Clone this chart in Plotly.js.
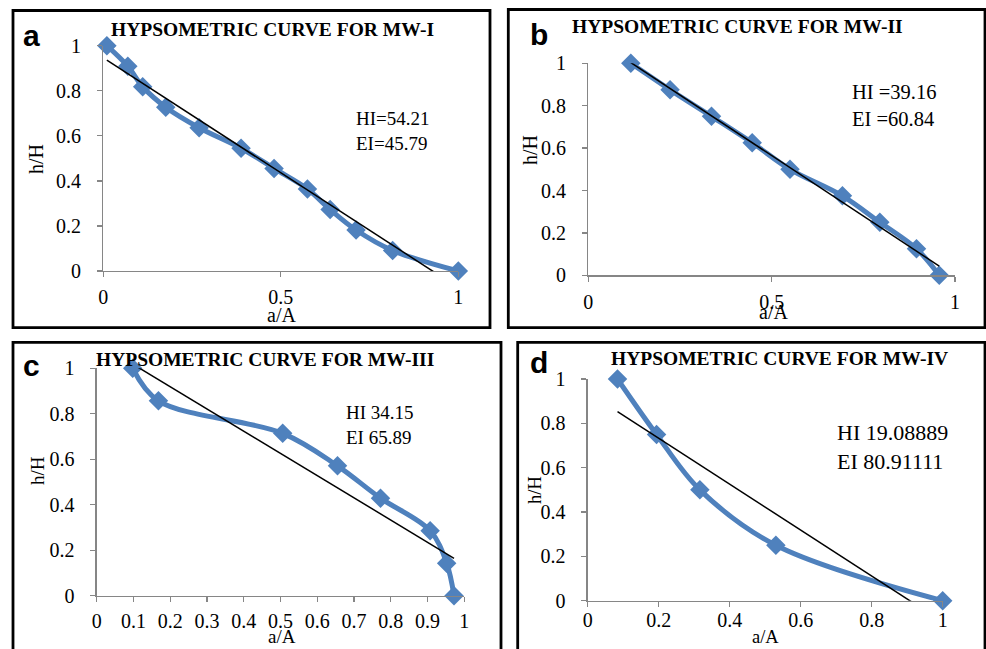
<!DOCTYPE html>
<html>
<head>
<meta charset="utf-8">
<script src="https://cdn.plot.ly/plotly-3.0.1.min.js"></script>
<style>html,body{margin:0;padding:0;background:#fff;}</style>
</head>
<body>
<div id="chart" style="width:986px;height:649px;"></div>
<script>
// ---- DATA ----
const panelLabels = ["a", "b", "c", "d"];
const titles = ["HYPSOMETRIC CURVE FOR MW-I", "HYPSOMETRIC CURVE FOR MW-II",
                "HYPSOMETRIC CURVE FOR MW-III", "HYPSOMETRIC CURVE FOR MW-IV"];
const indexLines = [["HI=54.21", "EI=45.79"], ["HI =39.16", "EI =60.84"],
                    ["HI 34.15", "EI 65.89"], ["HI 19.08889", "EI 80.91111"]];

const areaMW1 = [0.01, 0.069, 0.111, 0.176, 0.27, 0.388, 0.481, 0.575, 0.639, 0.712, 0.815, 1.0];
const heightMW1 = [1, 0.909, 0.818, 0.727, 0.636, 0.545, 0.455, 0.364, 0.273, 0.182, 0.091, 0];

const areaMW2 = [0.116, 0.223, 0.336, 0.447, 0.55, 0.693, 0.795, 0.895, 0.957];
const heightMW2 = [1, 0.875, 0.75, 0.625, 0.5, 0.375, 0.25, 0.125, 0];

const areaMW3 = [0.098, 0.168, 0.506, 0.655, 0.772, 0.907, 0.952, 0.972];
const heightMW3 = [1, 0.857, 0.714, 0.571, 0.429, 0.286, 0.143, 0];

const areaMW4 = [0.084, 0.194, 0.316, 0.53, 1.0];
const heightMW4 = [1, 0.75, 0.5, 0.25, 0];

const xTickStepA = 0.5, xTickStepB = 0.5, xTickStepC = 0.1, xTickStepD = 0.2;
const yTickStep = 0.2;

// ---- LAYOUT HELPERS ----
const W = 986, H = 649;
const px = v => v / W;
const py = v => 1 - v / H;
const serif = "Liberation Serif";
const sans = "Liberation Sans";
const blue = "#4F81BD";
const axisGray = "#868686";

function linearFit(xs, ys) {
  const n = xs.length;
  const mx = xs.reduce((s, v) => s + v, 0) / n;
  const my = ys.reduce((s, v) => s + v, 0) / n;
  let sxy = 0, sxx = 0;
  for (let i = 0; i < n; i++) { sxy += (xs[i] - mx) * (ys[i] - my); sxx += (xs[i] - mx) ** 2; }
  const b = sxy / sxx, a = my - b * mx;
  const x0 = Math.min(...xs), x1 = Math.max(...xs);
  return { x: [x0, x1], y: [a + b * x0, a + b * x1] };
}

const series = [
  { x: areaMW1, y: heightMW1, ax: "", dtick: xTickStepA },
  { x: areaMW2, y: heightMW2, ax: "2", dtick: xTickStepB },
  { x: areaMW3, y: heightMW3, ax: "3", dtick: xTickStepC },
  { x: areaMW4, y: heightMW4, ax: "4", dtick: xTickStepD }
];

// panel geometry in pixels: plot area [left,right,top(y=1),bottom(y=0)]
const plotBox = [
  [103.3, 458.3, 45.7, 271],
  [588.3, 955, 63.3, 275.3],
  [96.7, 464.3, 368.3, 595.7],
  [587.7, 942.7, 379, 600.7]
];
// frame rectangles [x0,x1,y0,y1]
const frames = [
  [13, 490, 10.5, 327.7],
  [508.3, 985, 9.5, 327.7],
  [13, 501, 342.3, 660],
  [517.7, 985, 342.3, 660]
];
const xLabelStandoff = [3, 3, 2, -4];
const titlePos = [[272, 29.5], [737.5, 26.7], [265, 360], [779, 358.5]];
const letterPos = [[31, 35], [539, 34], [31, 365], [539, 362]];
const hiPos = [[354, 131], [850, 105], [344, 425], [835, 447]];
const hiSize = [19, 20.5, 19, 22];
const yTitlePos = [[36, 159], [530, 150], [37, 471], [535, 490]];
const xTitlePos = [[281, 315], [773, 312], [282, 636.5], [765, 636.5]];
const axTitleSize = [20, 20, 19, 18.5];

const traces = [];
const layout = {
  width: W, height: H,
  margin: { l: 0, r: 0, t: 0, b: 0 },
  paper_bgcolor: "#fff", plot_bgcolor: "#fff",
  font: { family: serif, color: "#000" },
  showlegend: false,
  shapes: [], annotations: []
};

series.forEach((s, i) => {
  const fit = linearFit(s.x, s.y);
  traces.push({
    x: s.x, y: s.y, type: "scatter", mode: "lines+markers",
    xaxis: "x" + s.ax, yaxis: "y" + s.ax,
    line: { color: blue, width: 5, shape: "spline", smoothing: 1 },
    marker: { symbol: "diamond", size: 15, color: blue },
    cliponaxis: false, hoverinfo: "x+y"
  });
  traces.push({
    x: fit.x, y: fit.y, type: "scatter", mode: "lines",
    xaxis: "x" + s.ax, yaxis: "y" + s.ax,
    line: { color: "#000", width: 1.5 }, hoverinfo: "skip"
  });
  const b = plotBox[i];
  const common = {
    showgrid: false, zeroline: false, showline: true, linecolor: axisGray, linewidth: 1.3,
    ticks: "outside", ticklen: 5, tickwidth: 1.3, tickcolor: axisGray,
    range: [0, 1], fixedrange: true
  };
  layout["xaxis" + s.ax] = Object.assign({}, common, {
    domain: [px(b[0]), px(b[1])], anchor: "y" + s.ax, dtick: s.dtick, tick0: 0,
    tickfont: { family: serif, size: 20, color: "#000" },
    ticklabelstandoff: xLabelStandoff[i]
  });
  layout["yaxis" + s.ax] = Object.assign({}, common, {
    domain: [py(b[3]), py(b[2])], anchor: "x" + s.ax, dtick: yTickStep, tick0: 0,
    tickfont: { family: serif, size: 20, color: "#000" },
    ticklabelstandoff: 12
  });
  const f = frames[i];
  layout.shapes.push({ type: "rect", xref: "paper", yref: "paper",
    x0: px(f[0]), x1: px(f[1]), y0: py(f[3]), y1: py(f[2]),
    line: { color: "#000", width: 2.8 }, fillcolor: "rgba(0,0,0,0)" });
  layout.annotations.push({ text: "<b>" + titles[i] + "</b>", xref: "paper", yref: "paper",
    x: px(titlePos[i][0]), y: py(titlePos[i][1]), xanchor: "center", yanchor: "middle",
    showarrow: false, font: { family: serif, size: 19.5, color: "#000" } });
  layout.annotations.push({ text: "<b>" + panelLabels[i] + "</b>", xref: "paper", yref: "paper",
    x: px(letterPos[i][0]), y: py(letterPos[i][1]), xanchor: "center", yanchor: "middle",
    showarrow: false, font: { family: sans, size: 30, color: "#000" } });
  layout.annotations.push({ text: indexLines[i].join("<br>"), xref: "paper", yref: "paper",
    x: px(hiPos[i][0]), y: py(hiPos[i][1]), xanchor: "left", yanchor: "middle", align: "left",
    showarrow: false, font: { family: serif, size: hiSize[i], color: "#000" } });
  layout.annotations.push({ text: "h/H", xref: "paper", yref: "paper", textangle: -90,
    x: px(yTitlePos[i][0]), y: py(yTitlePos[i][1]), xanchor: "center", yanchor: "middle",
    showarrow: false, font: { family: serif, size: axTitleSize[i], color: "#000" } });
  layout.annotations.push({ text: "a/A", xref: "paper", yref: "paper",
    x: px(xTitlePos[i][0]), y: py(xTitlePos[i][1]), xanchor: "center", yanchor: "middle",
    showarrow: false, font: { family: serif, size: axTitleSize[i], color: "#000" } });
});

Plotly.newPlot("chart", traces, layout, { staticPlot: true, displayModeBar: false });
</script>
</body>
</html>
